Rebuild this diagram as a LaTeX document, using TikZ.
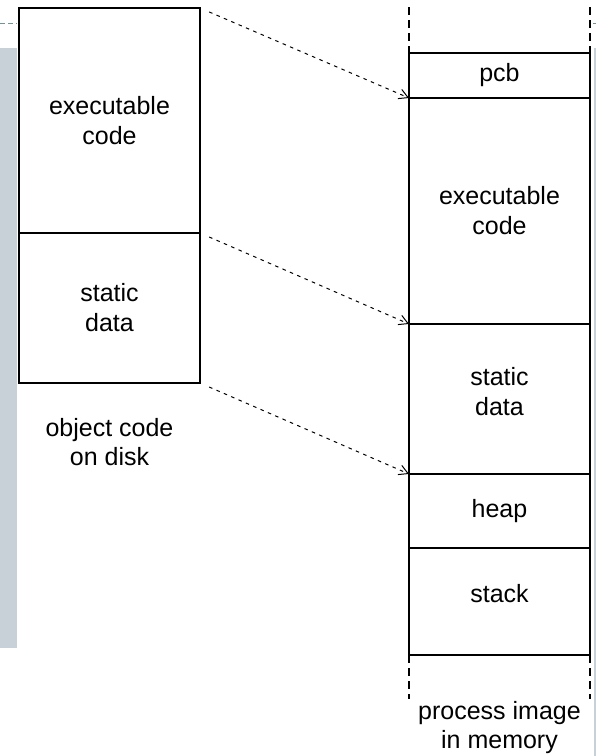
\documentclass[tikz,border=0pt]{standalone}
\usepackage{fontspec}
\setmainfont{Liberation Sans}
\usetikzlibrary{positioning, arrows.meta}

\definecolor{slidegray}{RGB}{199,209,215}
\definecolor{slideteal}{RGB}{110,150,150}

\begin{document}
\begin{tikzpicture}[x=1pt, y=-1pt,
  block/.style={draw, line width=1.4pt, inner sep=0pt, outer sep=0pt,
    minimum width=181pt, align=center, font=\fontsize{25}{30}\selectfont},
  caption/.style={align=center, font=\fontsize{25}{29}\selectfont},
  mapto/.style={line width=1pt, dash pattern=on 3.5pt off 4.5pt,
    -{Straight Barb[length=9pt, width=10pt, line width=1pt]}, shorten <=10pt},
  openend/.style={line width=1.4pt, dash pattern=on 8pt off 5pt}]

% Define dimensions
\def\diskx{19} % left edge of disk image
\def\memx{409} % left edge of memory image

% Slide background
\useasboundingbox (0,0) rectangle (596,756);
\fill[white] (0,0) rectangle (596,756);
\fill[slidegray] (0,48) rectangle (17,648);
\fill[slidegray] (594,48) rectangle (596,756);
\draw[slideteal, line width=1pt, dash pattern=on 5pt off 3pt] (0,23) -- (17,23);
\draw[slideteal, line width=1pt] (593,23) -- (596,23);

% Object code on disk
\node[block, anchor=north west, minimum height=225pt] (dcode) at (\diskx,8) {executable\\code};
\node[block, below=0pt of dcode, minimum height=150pt] (ddata) {static\\data};
\node[caption, below=32pt of ddata] (dcap) {object code\\on disk};

% Process image in memory
\node[block, anchor=north west, minimum height=45pt] (pcb) at (\memx,53) {pcb};
\node[block, below=0pt of pcb, minimum height=226pt] (mcode) {executable\\code};
\node[block, below=0pt of mcode, minimum height=150pt] (mdata) {static\\data\\[-14pt]};
\node[block, below=0pt of mdata, minimum height=74pt] (heap) {heap};
\node[block, below=0pt of heap, minimum height=107pt] (stack) {stack\\[-14pt]};
\node[caption, below=43pt of stack] (mcap) {process image\\in memory};

% Open ends of the memory image
\coordinate (topl) at (\memx,7);
\coordinate (topr) at (\memx+181,7);
\coordinate (botl) at (\memx,699);
\coordinate (botr) at (\memx+181,699);
\draw[openend] (topl) -- (pcb.north west);
\draw[openend] (topr) -- (pcb.north east);
\draw[openend] (stack.south west) -- (botl);
\draw[openend] (stack.south east) -- (botr);

% Loading the sections
\draw[mapto] (dcode.north east) -- (pcb.south west);
\draw[mapto] (dcode.south east) -- (mcode.south west);
\draw[mapto] (ddata.south east) -- (mdata.south west);
\end{tikzpicture}
\end{document}
